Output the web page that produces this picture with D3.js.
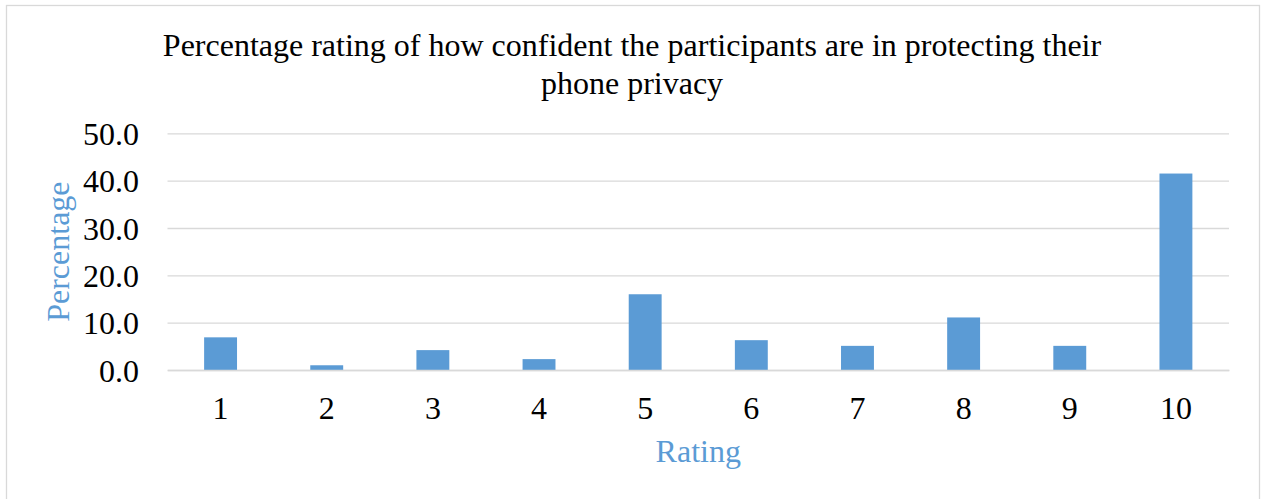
<!DOCTYPE html>
<html>
<head>
<meta charset="utf-8">
<script src="https://cdn.jsdelivr.net/npm/d3@7"></script>
<style>
  html, body { margin: 0; padding: 0; background: #fff; }
  svg { display: block; }
  text { font-family: "Liberation Serif", "Times New Roman", serif; }
</style>
</head>
<body>
<svg id="chart" width="1266" height="499"></svg>
<script>
// Data
const categories = ["1", "2", "3", "4", "5", "6", "7", "8", "9", "10"];
const percentages = [6.9, 1.0, 4.2, 2.3, 16.0, 6.3, 5.1, 11.1, 5.1, 41.5];
const yTicks = [0, 10, 20, 30, 40, 50];
const titleLines = ["Percentage rating of how confident the participants are in protecting their", "phone privacy"];
const xTitle = "Rating";
const yTitle = "Percentage";

const svg = d3.select("#chart");
const plot = { left: 167.5, right: 1229, top: 133.3, bottom: 370 };
const FS = 32;

// frame
svg.append("rect")
  .attr("x", 6.5).attr("y", 5.5)
  .attr("width", 1253).attr("height", 500)
  .attr("fill", "#fff").attr("stroke", "#d9d9d9").attr("stroke-width", 1.3);

const x = d3.scaleBand()
  .domain(categories)
  .range([plot.left, plot.right])
  .paddingInner(0.69)
  .paddingOuter(0.345);

const y = d3.scaleLinear()
  .domain([0, 50])
  .range([plot.bottom, plot.top]);

// gridlines
const yAxis = d3.axisLeft(y)
  .tickValues(yTicks)
  .tickSize(-(plot.right - plot.left))
  .tickFormat(d3.format(".1f"));

const gy = svg.append("g")
  .attr("transform", `translate(${plot.left},0)`)
  .call(yAxis);
gy.select(".domain").remove();
gy.selectAll(".tick line").attr("stroke", "#d9d9d9").attr("stroke-width", 1.3);
gy.selectAll(".tick text")
  .attr("font-size", FS).attr("fill", "#000")
  .attr("font-family", "Liberation Serif, Times New Roman, serif")
  .attr("x", 139 - plot.left)
  .attr("dy", "0.35em");

// bars
svg.append("g").selectAll("rect")
  .data(categories.map((c, i) => ({ c, v: percentages[i] })))
  .join("rect")
  .attr("x", d => x(d.c))
  .attr("y", d => y(d.v))
  .attr("width", x.bandwidth())
  .attr("height", d => y(0) - y(d.v))
  .attr("fill", "#5b9bd5");

// x axis
const xAxis = d3.axisBottom(x).tickSize(0).tickPadding(0);
const gx = svg.append("g")
  .attr("transform", `translate(0,${plot.bottom})`)
  .call(xAxis);
gx.select(".domain").attr("stroke", "#d9d9d9").attr("stroke-width", 1.3);
gx.selectAll(".tick text")
  .attr("font-size", FS).attr("fill", "#000")
  .attr("font-family", "Liberation Serif, Times New Roman, serif")
  .attr("y", 48.5).attr("dy", 0);

// title
const title = svg.append("text")
  .attr("text-anchor", "middle")
  .attr("font-size", FS)
  .attr("fill", "#000");
title.selectAll("tspan")
  .data(titleLines)
  .join("tspan")
  .attr("x", 632)
  .attr("y", (d, i) => 56 + i * 37.5)
  .text(d => d);

// axis titles
svg.append("text")
  .attr("x", (plot.left + plot.right) / 2)
  .attr("y", 461.5)
  .attr("text-anchor", "middle")
  .attr("font-size", FS)
  .attr("fill", "#5b9bd5")
  .text(xTitle);

svg.append("text")
  .attr("transform", `translate(69,${(plot.top + plot.bottom) / 2}) rotate(-90)`)
  .attr("text-anchor", "middle")
  .attr("font-size", FS)
  .attr("fill", "#5b9bd5")
  .text(yTitle);
</script>
</body>
</html>
